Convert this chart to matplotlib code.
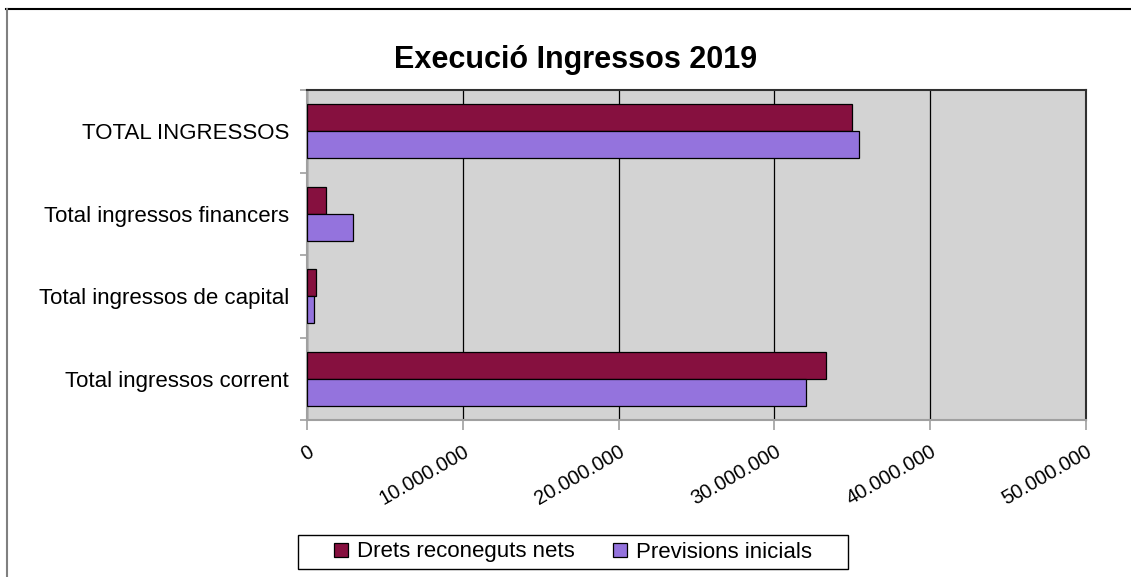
import numpy as np
import matplotlib.pyplot as plt
from matplotlib.lines import Line2D
from matplotlib.patches import Rectangle
from matplotlib.ticker import FuncFormatter

plt.rcParams['font.family'] = ['Liberation Sans', 'DejaVu Sans']

categories = ['Total ingressos corrent', 'Total ingressos de capital',
              'Total ingressos financers', 'TOTAL INGRESSOS']
drets = [33.3e6, 0.55e6, 1.25e6, 35.0e6]
previsions = [32.0e6, 0.48e6, 2.95e6, 35.4e6]
series_names = ['Drets reconeguts nets', 'Previsions inicials']
xticks = [0, 10e6, 20e6, 30e6, 40e6, 50e6]

W, H = 1131, 577
fig = plt.figure(figsize=(W/100, H/100), dpi=100)
ax = fig.add_axes([307/W, 1-420/H, (1086-307)/W, (420-90)/H])
ax.set_facecolor('#d3d3d3')

y = np.arange(len(categories))
h = 0.33
ax.barh(y + h/2, drets, height=h, color='#86103f', edgecolor='black', linewidth=0.9,
        label=series_names[0], zorder=3)
ax.barh(y - h/2, previsions, height=h, color='#9473dd', edgecolor='black', linewidth=0.9,
        label=series_names[1], zorder=3)

ax.set_ylim(-0.5, len(categories) - 0.5)
ax.set_xlim(0, 50e6)
ax.set_xticks(xticks)
ax.xaxis.set_major_formatter(FuncFormatter(lambda v, p: f'{int(v):,}'.replace(',', '.')))
ax.xaxis.grid(True, color='black', linewidth=0.9, zorder=1)
ax.set_axisbelow(True)

# category separators as major ticks, names as minor ticks
ax.set_yticks(np.arange(len(categories) + 1) - 0.5)
ax.set_yticklabels([])
ax.set_yticks(y, minor=True)
ax.set_yticklabels(categories, minor=True, fontsize=16)
ax.tick_params(axis='y', which='minor', length=0, pad=13)
ax.tick_params(axis='y', which='major', length=5, color='#a0a0a0', width=1.2)
ax.tick_params(axis='x', length=7, color='#a0a0a0', width=1.2, labelsize=14.5, pad=9)
for lbl in ax.get_xticklabels():
    lbl.set_rotation(30)
    lbl.set_ha('right')
    lbl.set_va('top')
    lbl.set_rotation_mode('anchor')

for s in ['left', 'bottom']:
    ax.spines[s].set_color('#a0a0a0')
    ax.spines[s].set_linewidth(1.5)
for s in ['top', 'right']:
    ax.spines[s].set_color('#303030')
    ax.spines[s].set_linewidth(1.5)

fig.text(576/W, 1-60/H, 'Execució Ingressos 2019', ha='center', va='center',
         fontsize=22, fontweight='bold')

leg = fig.legend(loc='center', bbox_to_anchor=(573/W, 1-552/H), ncol=2, fontsize=16,
                 frameon=False, handlelength=0.6, handleheight=0.6, handletextpad=0.4,
                 columnspacing=1.75, borderpad=0.2)
fig.add_artist(Rectangle((298/W, 1-569/H), (848-298)/W, 34/H, transform=fig.transFigure,
                         fill=False, edgecolor='black', linewidth=1.0))

# chart outer frame
fig.add_artist(Line2D([6/W, 1], [1-9/H, 1-9/H], transform=fig.transFigure,
                      color='black', linewidth=1.5))
fig.add_artist(Line2D([6.5/W, 6.5/W], [0, 1-9/H], transform=fig.transFigure,
                      color='#808080', linewidth=1.5))

fig.savefig('out.png', dpi=100)
